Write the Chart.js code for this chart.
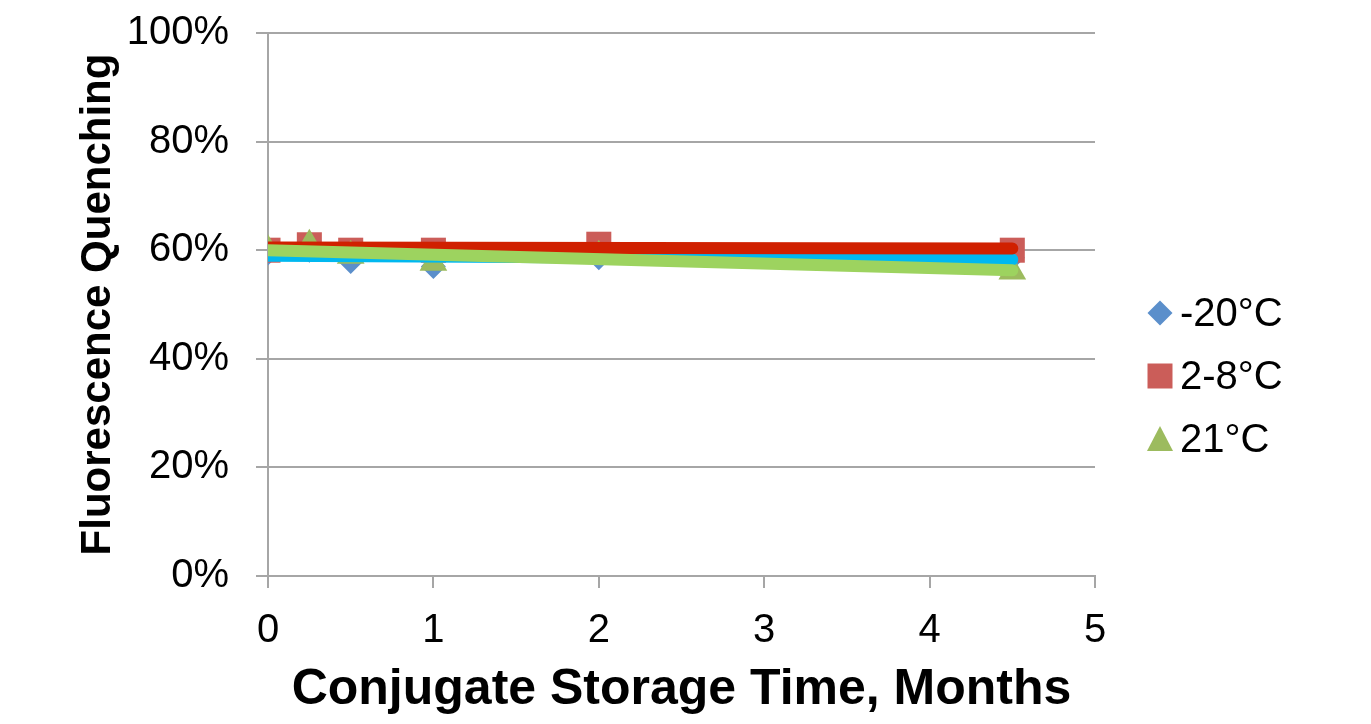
<!DOCTYPE html>
<html>
<head>
<meta charset="utf-8">
<title>Fluorescence Quenching</title>
<script src="https://cdn.jsdelivr.net/npm/chart.js@4.4.1/dist/chart.umd.min.js"></script>
<style>
    html, body { margin: 0; padding: 0; background: #fff; }
    #wrap { width: 1371px; height: 724px; position: relative; }
</style>
</head>
<body>
<div id="wrap"><canvas id="myChart"></canvas></div>
<script>
// meses de almacenamiento y % de quenching
const months = [0, 0.25, 0.5, 1, 2, 4.5];
const minus20 = [59.5, 60.0, 57.9, 57.0, 58.6, 58.6];
const fridge = [60.0, 61.0, 60.0, 60.0, 61.1, 60.0];
const room = [60.0, 61.0, 59.0, 57.7, 59.0, 56.1];

// lineas de tendencia (extremos)
const trendX = [0, 4.5];
const trendMinus20 = [59.0, 58.3];
const trendFridge = [60.5, 60.3];
const trendRoom = [60.0, 56.3];

const seriesLabels = ["-20°C", "2-8°C", "21°C"];
const markerColors = ["#5B8FCB", "#CB5D59", "#9CBB5E"];
const trendColors = ["#00B8F0", "#D02000", "#9DD35F"];

const FONT = '"Liberation Sans", Arial, sans-serif';
const GRID = "#A6A6A6";

function toPoints(xs, ys) {
    return xs.map((x, i) => ({ x: x, y: ys[i] }));
}

function trendSet(ys, color, order) {
    return {
        type: "line",
        data: toPoints(trendX, ys),
        borderColor: color,
        borderWidth: 12,
        borderCapStyle: "round",
        pointRadius: 0,
        fill: false,
        order: order,
    };
}

// leyenda dibujada a mano a la derecha
const legendPlugin = {
    id: "sideLegend",
    afterDraw(chart) {
        const ctx = chart.ctx;
        const styles = ["diamond", "square", "triangle"];
        const x0 = 1160;
        const y0 = 313;
        const step = 63;
        ctx.save();
        styles.forEach((s, i) => {
            const y = y0 + i * step;
            ctx.fillStyle = markerColors[i];
            ctx.beginPath();
            if (s === "diamond") {
                ctx.moveTo(x0, y - 12.5);
                ctx.lineTo(x0 + 12.5, y);
                ctx.lineTo(x0, y + 12.5);
                ctx.lineTo(x0 - 12.5, y);
            } else if (s === "square") {
                ctx.rect(x0 - 12.5, y - 12.5, 25, 25);
            } else {
                ctx.moveTo(x0, y - 13);
                ctx.lineTo(x0 + 13, y + 12);
                ctx.lineTo(x0 - 13, y + 12);
            }
            ctx.closePath();
            ctx.fill();
            ctx.fillStyle = "#000";
            ctx.font = "40px " + FONT;
            ctx.textAlign = "left";
            ctx.textBaseline = "middle";
            ctx.fillText(seriesLabels[i], 1180, y + 2);
        });
        ctx.restore();
    },
};

const ctx = document.getElementById("myChart");

new Chart(ctx, {
    type: "scatter",
    data: {
        datasets: [
            trendSet(trendRoom, trendColors[2], 1),
            trendSet(trendFridge, trendColors[1], 2),
            trendSet(trendMinus20, trendColors[0], 3),
            {
                label: seriesLabels[2],
                data: toPoints(months, room),
                pointStyle: "triangle",
                pointRadius: 16,
                backgroundColor: markerColors[2],
                borderWidth: 0,
                order: 4,
            },
            {
                label: seriesLabels[1],
                data: toPoints(months, fridge),
                pointStyle: "rect",
                pointRadius: 17.7,
                backgroundColor: markerColors[1],
                borderWidth: 0,
                order: 5,
            },
            {
                label: seriesLabels[0],
                data: toPoints(months, minus20),
                pointStyle: "rectRot",
                pointRadius: 12.5,
                backgroundColor: markerColors[0],
                borderWidth: 0,
                order: 6,
            },
        ],
    },
    options: {
        responsive: true,
        maintainAspectRatio: false,
        animation: false,
        layout: {
            padding: { top: 33, right: 276, bottom: 0, left: 0 },
        },
        plugins: {
            legend: { display: false },
            tooltip: { enabled: false },
        },
        scales: {
            x: {
                type: "linear",
                min: 0,
                max: 5,
                ticks: {
                    stepSize: 1,
                    color: "#000",
                    padding: 19,
                    font: { family: FONT, size: 40 },
                },
                grid: {
                    drawOnChartArea: false,
                    drawTicks: true,
                    tickLength: 12,
                    color: GRID,
                    lineWidth: 2,
                },
                border: { display: true, color: GRID, width: 2 },
                title: {
                    display: true,
                    text: "Conjugate Storage Time, Months",
                    color: "#000",
                    font: { family: FONT, size: 50, weight: "bold", lineHeight: 1.2 },
                    padding: { top: 0, bottom: 4 },
                },
                afterFit: (scale) => {
                    scale.height = 148;
                    scale.paddingLeft = 0;
                    scale.paddingRight = 0;
                },
            },
            y: {
                min: 0,
                max: 100,
                ticks: {
                    stepSize: 20,
                    color: "#000",
                    padding: 27,
                    font: { family: FONT, size: 40 },
                    callback: (v) => v + "%",
                },
                grid: {
                    drawTicks: true,
                    tickLength: 12,
                    color: GRID,
                    lineWidth: 2,
                },
                border: { display: true, color: GRID, width: 2 },
                title: {
                    display: true,
                    text: "Fluorescence Quenching",
                    color: "#000",
                    font: { family: FONT, size: 42, weight: "bold", lineHeight: 1.2 },
                    padding: { top: 73, bottom: 0 },
                },
                afterFit: (scale) => {
                    scale.width = 268;
                    scale.paddingTop = 0;
                    scale.paddingBottom = 0;
                },
            },
        },
    },
    plugins: [legendPlugin],
});
</script>
</body>
</html>
